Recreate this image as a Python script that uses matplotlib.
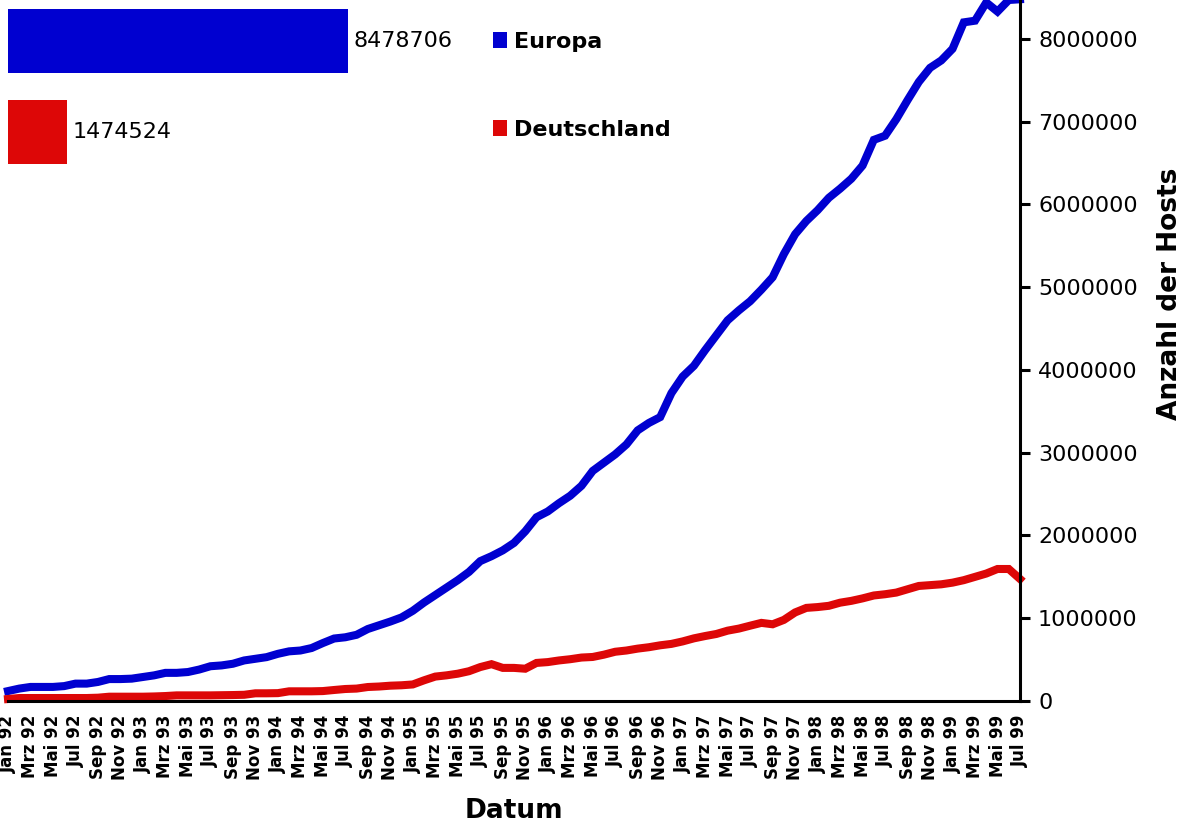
import numpy as np
import matplotlib
matplotlib.use("Agg")
import matplotlib.pyplot as plt
from matplotlib.patches import Patch

# Hosts per month, Jan 92 .. Jul 99 (millions)
europa = [0.12, 0.15, 0.17, 0.17, 0.17, 0.18, 0.21, 0.21, 0.23, 0.265,
          0.265, 0.27, 0.29, 0.31, 0.34, 0.34, 0.35, 0.38, 0.42, 0.43,
          0.45, 0.49, 0.51, 0.53, 0.57, 0.60, 0.61, 0.64, 0.70, 0.755,
          0.77, 0.80, 0.87, 0.915, 0.96, 1.01, 1.09, 1.19, 1.28, 1.37,
          1.46, 1.56, 1.69, 1.75, 1.82, 1.91, 2.05, 2.22, 2.29, 2.39,
          2.48, 2.60, 2.78, 2.88, 2.98, 3.10, 3.27, 3.36, 3.43, 3.72,
          3.92, 4.05, 4.24, 4.42, 4.60, 4.72, 4.83, 4.97, 5.12, 5.40,
          5.64, 5.80, 5.93, 6.08, 6.19, 6.31, 6.47, 6.78, 6.83, 7.03,
          7.26, 7.48, 7.65, 7.74, 7.88, 8.20, 8.22, 8.44, 8.33, 8.47,
          8.478706]
deutschland = [0.024, 0.036, 0.036, 0.036, 0.036, 0.036, 0.036, 0.036, 0.040, 0.052,
               0.052, 0.052, 0.052, 0.055, 0.060, 0.068, 0.068, 0.068, 0.068, 0.070,
               0.072, 0.075, 0.093, 0.093, 0.095, 0.117, 0.117, 0.117, 0.120, 0.133,
               0.145, 0.150, 0.169, 0.175, 0.185, 0.19, 0.20, 0.25, 0.295, 0.31,
               0.33, 0.36, 0.41, 0.445, 0.40, 0.40, 0.39, 0.46, 0.47, 0.49,
               0.505, 0.525, 0.532, 0.56, 0.595, 0.61, 0.633, 0.65, 0.673, 0.69,
               0.72, 0.757, 0.785, 0.81, 0.85, 0.875, 0.91, 0.944, 0.927, 0.98,
               1.07, 1.125, 1.135, 1.15, 1.188, 1.21, 1.24, 1.275, 1.29, 1.31,
               1.35, 1.39, 1.40, 1.41, 1.43, 1.46, 1.50, 1.54, 1.595, 1.595,
               1.474524]
europa = np.array(europa) * 1e6
deutschland = np.array(deutschland) * 1e6

month_names = ['Jan', 'Mrz', 'Mai', 'Jul', 'Sep', 'Nov']
years = ['92', '93', '94', '95', '96', '97', '98', '99']
tick_labels = [f'{m} {y}' for y in years for m in month_names][:46]

series_names = ['Europa', 'Deutschland']
colors = ['#0000d0', '#dd0707']

W, H = 1185, 823
fig = plt.figure(figsize=(W / 100, H / 100), dpi=100)

# main plot
ax = fig.add_axes([8 / W, (H - 701) / H, (1020 - 8) / W, 701 / H])
months = np.arange(len(europa))
ax.plot(months, europa, color=colors[0], lw=5.8, clip_on=False,
        solid_joinstyle='miter')
ax.plot(months, deutschland, color=colors[1], lw=5.8, clip_on=False,
        solid_joinstyle='miter')
ax.set_xlim(0, 90)
ax.set_ylim(0, 8.47e6)

for s in ['top', 'left']:
    ax.spines[s].set_visible(False)
for s in ['bottom', 'right']:
    ax.spines[s].set_linewidth(2.2)

ax.yaxis.tick_right()
ax.set_yticks(np.arange(0, 8.5e6, 1e6))
ax.set_yticklabels([f'{int(v)}' for v in np.arange(0, 8.5e6, 1e6)], fontsize=16)
ax.tick_params(axis='y', direction='out', length=7, width=2.2, pad=6)

ax.set_xticks(np.arange(0, 91, 2))
ax.set_xticklabels(tick_labels, rotation=90, fontsize=12, fontweight='bold')
ax.tick_params(axis='x', length=0, pad=10)

fig.text(1170 / W, 1 - 294 / H, 'Anzahl der Hosts', rotation=90,
         ha='center', va='center', fontsize=19, fontweight='bold')
fig.text(514 / W, 1 - 811 / H, 'Datum', ha='center', va='center',
         fontsize=19, fontweight='bold')

# small bar inset with latest values
last_vals = [europa[-1], deutschland[-1]]
axb = fig.add_axes([8 / W, (H - 164) / H, 340 / W, 155 / H])
bars = axb.barh([1, 0], last_vals, height=0.703, color=colors)
axb.set_xlim(0, last_vals[0])
axb.set_ylim(-0.352, 1.352)
axb.axis('off')
axb.bar_label(bars, labels=[f'{int(round(v))}' for v in last_vals],
              padding=4, fontsize=16, clip_on=False)

handles = [Patch(facecolor=c, edgecolor='none') for c in colors]
fig.legend(handles, series_names, loc='upper left',
           bbox_to_anchor=(493 / W, 1 - 32 / H), frameon=False,
           prop={'size': 16, 'weight': 'bold'}, handlelength=0.65,
           handleheight=0.7, handletextpad=0.3, labelspacing=3.05,
           borderpad=0, borderaxespad=0)

fig.savefig('out.png', dpi=100)
